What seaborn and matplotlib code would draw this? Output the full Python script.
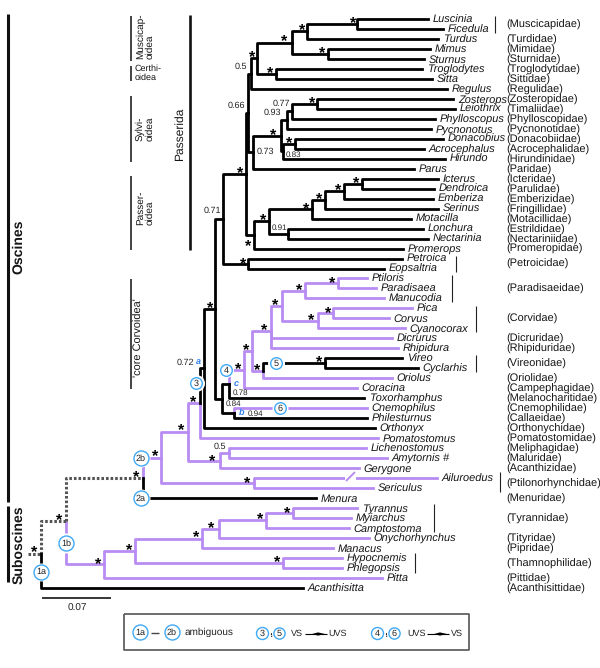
import matplotlib
matplotlib.use("Agg")
import matplotlib.pyplot as plt
import pandas as pd
import seaborn as sns

sns.set_theme(style="white")
plt.rcParams["font.family"] = ["Liberation Sans", "DejaVu Sans"]
plt.rcParams["lines.solid_capstyle"] = "projecting"
plt.rcParams["lines.dash_capstyle"] = "butt"
plt.rcParams["text.hinting"] = "no_hinting"
plt.rcParams["text.hinting_factor"] = 1

# tips, top to bottom, with their root-to-tip distance (scale bar = 0.07)
taxa = ["Luscinia", "Ficedula", "Turdus", "Mimus", "Sturnus", "Troglodytes", "Sitta", "Regulus",
        "Zosterops", "Leiothrix", "Phylloscopus", "Pycnonotus", "Donacobius", "Acrocephalus",
        "Hirundo", "Parus", "Icterus", "Dendroica", "Emberiza", "Serinus", "Motacilla", "Lonchura",
        "Nectarinia", "Promerops", "Petroica", "Eopsaltria", "Ptiloris", "Paradisaea", "Manucodia",
        "Pica", "Corvus", "Cyanocorax", "Dicrurus", "Rhipidura", "Vireo", "Cyclarhis", "Oriolus",
        "Coracina", "Toxorhamphus", "Cnemophilus", "Philesturnus", "Orthonyx", "Pomatostomus",
        "Lichenostomus", "Amytornis #", "Gerygone", "Ailuroedus", "Sericulus", "Menura", "Tyrannus",
        "Myiarchus", "Camptostoma", "Onychorhynchus", "Manacus", "Hypocnemis", "Phlegopsis", "Pitta",
        "Acanthisitta"]
tip_depth = [.387, .402, .397, .389, .383, .381, .391, .406,
             .412, .414, .394, .390, .402, .383,
             .404, .373, .397, .393, .392, .397, .370, .382,
             .387, .362, .361, .343, .326, .335, .343,
             .371, .348, .364, .351, .357, .361, .377, .351,
             .316, .323, .326, .326, .334, .337,
             .325, .346, .318, .396, .332, .275, .316,
             .310, .308, .328, .292, .301, .301, .341,
             .262]

# internal nodes, children first: name, depth, children
clades = [
    ("lusfic", .316, ["Luscinia", "Ficedula"]),
    ("muscic", .266, ["lusfic", "Turdus"]),
    ("mimstu", .287, ["Mimus", "Sturnus"]),
    ("muscoid", .251, ["muscic", "mimstu"]),
    ("certhi", .235, ["Troglodytes", "Sitta"]),
    ("muscert", .216, ["muscoid", "certhi"]),
    ("regul", .210, ["muscert", "Regulus"]),
    ("zostim", .276, ["Zosterops", "Leiothrix"]),
    ("syl1", .251, ["zostim", "Phylloscopus"]),
    ("syl2", .246, ["syl1", "Pycnonotus"]),
    ("donaco", .254, ["Donacobius", "Acrocephalus"]),
    ("syl3", .242, ["donaco", "Hirundo"]),
    ("sylvi", .240, ["syl2", "syl3"]),
    ("parus", .212, ["sylvi", "Parus"]),
    ("p066", .2075, ["regul", "parus"]),
    ("ictden", .321, ["Icterus", "Dendroica"]),
    ("emb", .303, ["ictden", "Emberiza"]),
    ("ser", .284, ["emb", "Serinus"]),
    ("mot", .271, ["ser", "Motacilla"]),
    ("lonnec", .247, ["Lonchura", "Nectarinia"]),
    ("passer1", .228, ["mot", "lonnec"]),
    ("passer2", .213, ["passer1", "Promerops"]),
    ("passerida", .2055, ["p066", "passer2"]),
    ("petro", .207, ["Petroica", "Eopsaltria"]),
    ("pas_pet", .182, ["passerida", "petro"]),
    ("ptipar", .297, ["Ptiloris", "Paradisaea"]),
    ("paradis", .264, ["ptipar", "Manucodia"]),
    ("piccor", .292, ["Pica", "Corvus"]),
    ("corvid", .277, ["piccor", "Cyanocorax"]),
    ("parcor", .241, ["paradis", "corvid"]),
    ("dicrh", .230, ["parcor", "Dicrurus", "Rhipidura"]),
    ("vireon", .284, ["Vireo", "Cyclarhis"]),
    ("vireor", .222, ["vireon", "Oriolus"]),
    ("core1", .211, ["dicrh", "vireor"]),
    ("core2", .203, ["core1", "Coracina"]),
    ("core3", .188, ["core2", "Toxorhamphus"]),
    ("cnephi", .193, ["Cnemophilus", "Philesturnus"]),
    ("core4", .181, ["core3", "cnephi"]),
    ("core5", .174, ["pas_pet", "core4"]),
    ("core6", .163, ["core5", "Orthonyx"]),
    ("core7", .159, ["core6", "Pomatostomus"]),
    ("lichamy", .188, ["Lichenostomus", "Amytornis #"]),
    ("meliph", .179, ["lichamy", "Gerygone"]),
    ("osc1", .147, ["core7", "meliph"]),
    ("ptilon", .213, ["Ailuroedus", "Sericulus"]),
    ("osc2", .120, ["osc1", "ptilon"]),
    ("oscines", .102, ["osc2", "Menura"]),
    ("tyrmyi", .252, ["Tyrannus", "Myiarchus"]),
    ("tyran", .225, ["tyrmyi", "Camptostoma"]),
    ("tyr_ony", .178, ["tyran", "Onychorhynchus"]),
    ("tyr_man", .161, ["tyr_ony", "Manacus"]),
    ("thamno", .242, ["Hypocnemis", "Phlegopsis"]),
    ("sub1", .094, ["tyr_man", "thamno"]),
    ("subosc", .063, ["sub1", "Pitta"]),
    ("passeri", .025, ["oscines", "subosc"]),
    ("root", 0.0, ["passeri", "Acanthisitta"]),
]
root_stem = -0.013

# character state on a branch; children inherit it unless they are listed here
state_changes = {"root": "ambiguous", "Acanthisitta": "black", "subosc": "lilac", "osc2": "lilac",
                 "Menura": "black", "core6": "black", "core2": "lilac", "Cnemophilus": "lilac",
                 "vireon": "black"}

families = ["(Muscicapidae)", "(Turdidae)", "(Mimidae)", "(Sturnidae)", "(Troglodytidae)", "(Sittidae)",
            "(Regulidae)", "(Zosteropidae)", "(Timaliidae)", "(Phylloscopidae)", "(Pycnonotidae)",
            "(Donacobiidae)", "(Acrocephalidae)", "(Hirundinidae)", "(Paridae)", "(Icteridae)",
            "(Parulidae)", "(Emberizidae)", "(Fringillidae)", "(Motacillidae)", "(Estrildidae)",
            "(Nectariniidae)", "(Promeropidae)", "(Petroicidae)", "(Paradisaeidae)", "(Corvidae)",
            "(Dicruridae)", "(Rhipiduridae)", "(Vireonidae)", "(Oriolidae)", "(Campephagidae)",
            "(Melanocharitidae)", "(Cnemophilidae)", "(Callaeidae)", "(Orthonychidae)",
            "(Pomatostomidae)", "(Meliphagidae)", "(Maluridae)", "(Acanthizidae)",
            "(Ptilonorhynchidae)", "(Menuridae)", "(Tyrannidae)", "(Tityridae)", "(Pipridae)",
            "(Thamnophilidae)", "(Pittidae)", "(Acanthisittidae)"]
family_rows = [0.5, 2, 3, 4, 5, 6, 7, 8, 9, 10, 11, 12, 13, 14, 15, 16, 17, 18, 19, 20, 21, 22, 23, 24.5,
               27, 30, 32, 33, 34.5, 36, 37, 38, 39, 40, 41, 42, 43, 44, 45, 46.5, 48, 50, 52, 53, 54.5,
               56, 57]

LILAC = "#B88CF2"
BLUE = "#3FA9F5"
INK = "#151515"
ROW0, ROW_H = 19.0, 9.98

# work out row of every node and the segments of the tree
depth = dict(zip(taxa, tip_depth))
row = {t: float(i) for i, t in enumerate(taxa)}
kids = {}
for name, d, children in clades:
    depth[name] = d
    kids[name] = children
    row[name] = sum(row[c] for c in children) / len(children)

state = {"root": state_changes["root"]}
for name, d, children in reversed(clades):
    for c in children:
        state[c] = state_changes.get(c, state[name])

segs = [{"seg": 0, "x": root_stem, "y": row["root"], "state": state["root"]},
        {"seg": 0, "x": 0.0, "y": row["root"], "state": state["root"]}]
n = 1
for name, children in kids.items():
    for c in children:
        st = state[c]
        for x, y in [(depth[name], row[name]), (depth[name], row[c]), (depth[c], row[c])]:
            segs.append({"seg": n, "x": x, "y": y, "state": st})
        n += 1
tree = pd.DataFrame(segs)

fig = plt.figure(figsize=(6, 6.68), dpi=100)
ax = fig.add_axes([0, 0, 1, 1])

sns.lineplot(data=tree[tree.state == "lilac"], x="x", y="y", units="seg", estimator=None, sort=False,
             color=LILAC, lw=2.0, legend=False, ax=ax)
sns.lineplot(data=tree[tree.state == "ambiguous"], x="x", y="y", units="seg", estimator=None, sort=False,
             color="#555555", lw=2.2, linestyle=(0, (0.85, 0.65)), legend=False, ax=ax)
sns.lineplot(data=tree[tree.state == "black"], x="x", y="y", units="seg", estimator=None, sort=False,
             color="black", lw=2.0, legend=False, ax=ax)

ax.set_xlim(-0.041, 0.559)
ax.set_ylim((668 - ROW0) / ROW_H, -ROW0 / ROW_H)
ax.set_axis_off()

for t, d, r in zip(taxa, tip_depth, range(len(taxa))):
    ax.annotate(t, (d, r), xytext=(3.4, -0.5), textcoords="offset points", style="italic", fontsize=7.8,
                color=INK, va="center", ha="left")
for fam, r in zip(families, family_rows):
    ax.annotate(fam, (0.4655, r), xytext=(0, -0.6), textcoords="offset points", fontsize=7.65,
                color=INK, va="center", ha="left")

# everything else is annotation, placed in picture pixels
ov = fig.add_axes([0, 0, 1, 1])
ov.set_xlim(0, 600)
ov.set_ylim(668, 0)
ov.set_axis_off()
ov.patch.set_alpha(0)

# broken long branch to Ailuroedus
ov.fill_between([344.5, 355.5], 476, 480, color="white", lw=0, zorder=2)
ov.plot([346, 355], [481, 472], color=LILAC, lw=1.4, solid_capstyle="butt", zorder=3)

stars = [(284, 36), (252, 52), (270, 68), (273, 130), (289, 138), (240, 168), (263, 215), (248, 241),
         (243, 259), (353, 18), (302, 25), (322, 48), (312, 98), (356, 178), (338, 185), (319, 194),
         (306, 204), (332, 278), (299, 285), (275, 300), (328, 308), (311, 315), (264, 325), (246, 345),
         (238, 364), (257, 365), (319, 357), (210, 303), (193, 397), (181, 425), (155, 451), (212, 456),
         (34, 547), (59, 515), (136, 472), (247, 478), (260, 514), (287, 508), (211, 523), (196, 532),
         (129, 545), (98, 559), (277, 557)]
for sx, sy in stars:
    ov.text(sx, sy + 9.0, "*", fontsize=11.5, fontweight="bold", color="black", ha="center", va="baseline")

support = [("0.5", 241, 67, 6.4), ("0.66", 236, 106, 6.4), ("0.77", 281, 104, 6.4), ("0.93", 272, 113, 6.4),
           ("0.73", 265, 152, 6.4), ("0.83", 293, 155, 5.5), ("0.71", 212, 211, 6.4), ("0.91", 279, 228, 5.5),
           ("0.72", 185, 363, 6.4), ("0.78", 240, 393, 5.5), ("0.84", 233, 404, 5.5), ("0.94", 255, 414, 5.5),
           ("0.5", 220, 447, 6.4)]
for lab, sx, sy, fs in support:
    ov.text(sx, sy, lab, fontsize=fs, color="#222222", ha="center", va="center")
for lab, sx, sy in [("a", 198, 362), ("c", 236, 384), ("b", 242, 413)]:
    ov.text(sx, sy, lab, fontsize=6.8, color="#2F80F0", fontweight="bold", style="italic",
            ha="center", va="center")


def badge(x, y, lab, r=6.0, halo=None, fs=6.2):
    ov.scatter([x], [y], s=(2 * (halo or r + 2) * 0.72) ** 2, color="white", lw=0, zorder=4)
    ov.scatter([x], [y], s=(2 * r * 0.72) ** 2, facecolor="white", edgecolor=BLUE, lw=1.0, zorder=5)
    ov.text(x, y + 0.2, lab, fontsize=fs, color="#222222", ha="center", va="center", zorder=6)


badge(41, 571.5, "1a", 7.5, 9)
badge(66, 543, "1b", 7.5, 10)
badge(141, 498, "2a", 7.5, 9)
badge(141, 458, "2b", 7.5, 9)
badge(196, 383, "3", 5.8, 8.5, 6.8)
badge(226, 370, "4", 5.8, 7.5, 6.8)
badge(276, 363, "5", 5.8, 8.5, 6.8)
badge(280, 408, "6", 5.8, 8, 6.8)

# family brackets
for bx, y0, y1 in [(495, 16, 33), (456, 256, 272), (452, 275, 302), (476, 306, 332), (476, 355, 372),
                   (500, 472, 492), (434, 504, 532), (415, 553, 573)]:
    ov.plot([bx, bx], [y0, y1], color="#222222", lw=0.8, solid_capstyle="butt")

# group bars on the left
for bx, y0, y1, w in [(8, 14, 502, 2.2), (8, 506, 582, 2.2), (189.5, 15, 250, 1.9), (130.5, 16, 61, 1.1),
                      (130.5, 66, 81, 1.1), (130.5, 96, 162, 1.1), (130.5, 176, 250, 1.1),
                      (130.5, 279, 389, 1.1)]:
    ov.plot([bx, bx], [y0, y1], color="#111111", lw=w, solid_capstyle="butt")

ov.text(18.5, 247, "Oscines", fontsize=10.2, fontweight="bold", rotation=90, ha="center", va="center", color=INK)
ov.text(18.5, 545, "Suboscines", fontsize=10.2, fontweight="bold", rotation=90, ha="center", va="center", color=INK)
ov.text(180, 134, "Passerida", fontsize=8.8, rotation=90, ha="center", va="center", color=INK)
for lab, sy in [("Muscicap-\noidea", 36), ("Sylvi-\noidea", 129), ("Passer-\noidea", 208)]:
    ov.text(145, sy, lab, fontsize=7.4, rotation=90, ha="center", va="center", multialignment="left",
            linespacing=1.0, color=INK)
ov.text(134.5, 73, "Certhi-\noidea", fontsize=6.5, ha="left", va="center", linespacing=1.05, color=INK)
ov.text(139, 338, "'core Corvoidea'", fontsize=7.8, rotation=90, ha="center", va="center", color=INK)

# scale bar
ax.plot([0.0005, 0.0705], [(598 - ROW0) / ROW_H] * 2, color="black", lw=1.1, solid_capstyle="butt")
ov.text(77, 608, "0.07", fontsize=7.2, ha="center", va="center", color="#222222")

# legend box
ov.plot([124, 469, 469, 124, 124], [614, 614, 650, 650, 614], color="#555555", lw=1.2, solid_capstyle="butt")
badge(140, 632, "1a", 7.5, fs=6.2)
ov.plot([151, 159], [633, 633], color="#444444", lw=1.0, solid_capstyle="butt")
badge(172, 632, "2b", 7.5, fs=6.2)
ov.text(185, 632.5, "ambiguous", fontsize=7.0, ha="left", va="center", color="#222222")
for bx1, bx2, la, lb, comma, tx1, ax0, tx2, t1, t2 in [
    (262, 279, "3", "5", 271, 291, 305, 328, "VS", "UVS"),
    (377, 394, "4", "6", 386, 407, 427, 451, "UVS", "VS"),
]:
    badge(bx1, 633, la, 6.0, fs=6.8)
    badge(bx2, 633, lb, 5.6, fs=6.8)
    ov.text(comma, 632, ",", fontsize=9, fontweight="bold", ha="center", va="center", color="#222222")
    ov.text(tx1, 634, t1, fontsize=6.4, ha="left", va="center", color="#222222")
    ov.text(tx2, 634, t2, fontsize=6.4, ha="left", va="center", color="#222222")
    ov.plot([ax0, ax0 + 22], [634, 634], color="black", lw=0.8, solid_capstyle="butt")
    ov.fill([ax0 + 7, ax0 + 13, ax0 + 20, ax0 + 13], [634, 632.4, 634, 635.6], color="black", lw=0)

ov.set_xlim(0, 600)
ov.set_ylim(668, 0)

fig.savefig("out.png", dpi=100)
